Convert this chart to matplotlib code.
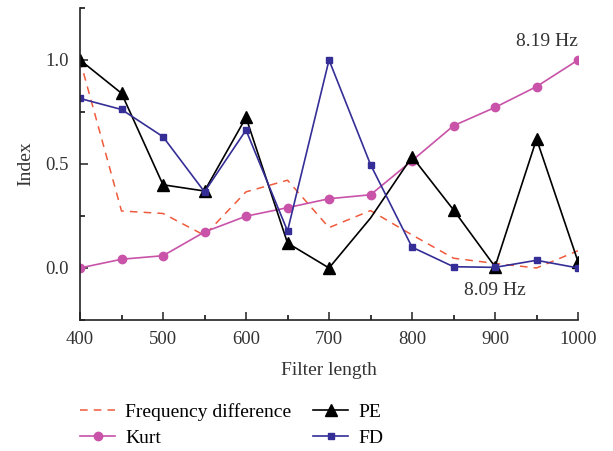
import matplotlib.pyplot as plt
from matplotlib.ticker import MultipleLocator

plt.rcParams['font.family'] = ['Liberation Serif', 'DejaVu Serif']

filter_length = [400, 450, 500, 550, 600, 650, 700, 750, 800, 850, 900, 950, 1000]
freq_diff = [1.0, 0.274, 0.262, 0.157, 0.366, 0.422, 0.194, 0.276, 0.159, 0.047, 0.022, 0.0, 0.083]
kurt = [0.0, 0.042, 0.059, 0.173, 0.249, 0.29, 0.333, 0.352, 0.516, 0.684, 0.772, 0.872, 1.0]
pe = [1.0, 0.84, 0.40, 0.37, 0.724, 0.12, 0.0, 0.24, 0.535, 0.279, 0.006, 0.62, 0.03]
fd = [0.815, 0.762, 0.631, 0.366, 0.663, 0.178, 1.0, 0.497, 0.10, 0.006, 0.003, 0.037, 0.0]

fig = plt.figure(figsize=(6.13, 4.51), dpi=100)
ax = fig.add_axes([0.1305, 0.2905, 0.8125, 0.6918])

# PE has no marker at 750
pe_marks = [i for i in range(len(filter_length)) if i != 7]

l1, = ax.plot(filter_length, freq_diff, color='#ef5a3c', linestyle=(0, (5, 4)), linewidth=1.1,
              label='Frequency difference')
l2, = ax.plot(filter_length, kurt, color='#c853a8', marker='o', markersize=6, linewidth=1.2,
              label='Kurt')
l3, = ax.plot(filter_length, pe, color='black', marker='^', markersize=8, linewidth=1.2,
              markevery=pe_marks, label='PE')
l4, = ax.plot(filter_length, fd, color='#342e96', marker='s', markersize=5, linewidth=1.2,
              label='FD')

ax.text(1000, 1.087, '8.19 Hz', ha='right', va='center', fontsize=14, color='#333333')
ax.text(900, -0.11, '8.09 Hz', ha='center', va='center', fontsize=14, color='#333333')

ax.set_xlim(400, 1000)
ax.set_ylim(-0.25, 1.25)
ax.xaxis.set_major_locator(MultipleLocator(100))
ax.xaxis.set_minor_locator(MultipleLocator(50))
ax.yaxis.set_major_locator(MultipleLocator(0.5))
ax.yaxis.set_minor_locator(MultipleLocator(0.25))
ax.set_yticks([0.0, 0.5, 1.0])
ax.set_yticklabels(['0.0', '0.5', '1.0'])

ax.spines['top'].set_visible(False)
ax.spines['right'].set_visible(False)
for s in ['left', 'bottom']:
    ax.spines[s].set_linewidth(1.2)
    ax.spines[s].set_color('#222222')
ax.tick_params(which='major', direction='in', length=6, width=1.1, labelsize=13.5,
               colors='#222222', pad=8)
ax.tick_params(which='minor', direction='in', length=3.5, width=1.1)
ax.tick_params(axis='y', labelcolor='#333333')
ax.tick_params(axis='x', labelcolor='#333333')

ax.set_xlabel('Filter length', fontsize=14, color='#333333', labelpad=10)
ax.set_ylabel('Index', fontsize=14, color='#333333', labelpad=8)

fig.legend(handles=[l1, l2, l3, l4], ncol=2, loc='upper left', bbox_to_anchor=(0.115, 0.128),
           frameon=False, fontsize=14, handlelength=1.8, columnspacing=1.15,
           labelspacing=0.45, handletextpad=0.5, borderpad=0)

fig.savefig('out.png', dpi=100)
